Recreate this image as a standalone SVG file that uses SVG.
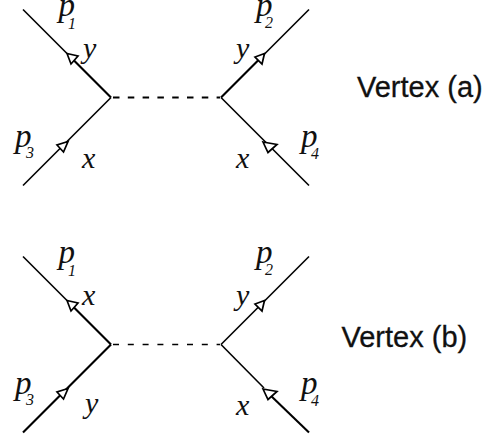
<svg xmlns="http://www.w3.org/2000/svg" width="489" height="437" viewBox="0 0 489 437">
<style>
.l{fill:none;stroke:#000;stroke-width:1.6}
.t{stroke-width:2.1}
.d{fill:none;stroke:#000;stroke-width:2;stroke-dasharray:6.500 8.300}
.d2{fill:none;stroke:#000;stroke-width:1.400;stroke-dasharray:6 8.800}
.a{fill:#fff;stroke:#000;stroke-width:1.700}
.m{font-family:"Liberation Serif",serif;font-style:italic;font-size:33px;fill:#111}
.v{font-family:"Liberation Serif",serif;font-style:italic;font-size:30px;fill:#111}
.s{font-family:"Liberation Serif",serif;font-style:italic;font-size:16px;fill:#111}
.c{font-family:"Liberation Sans",Arial,sans-serif;font-size:29px;fill:#111;stroke:#111;stroke-width:.3}
</style>
<rect width="489" height="437" fill="#fff"/>
<g id="connectors">
<path class="l" d="M23 9.500L67 53.500"/><path class="l t" d="M72 58.500L111 97.500"/>
<path class="l" d="M111 97.500L23 185.500"/>
<path class="d" d="M113 97.500H220"/>
<path class="l t" d="M221 97.500L263 55.500"/><path class="l" d="M263 55.500L309 9.500"/>
<path class="l" d="M221 97.500L309 185.500"/>
<path class="a" d="M67 53.500L78 56L71 64Z"/>
<path class="a" d="M68 141.500L57 145L63.500 152Z"/>
<path class="a" d="M264.500 53.500L255 57L262 64Z"/>
<path class="a" d="M263 142L277 144.500L268 152.500Z"/>

<path class="l" d="M23 256.500L67 300.500"/><path class="l t" d="M72 305.500L111 344.500"/>
<path class="l t" d="M111 344.500L23 432.500"/>
<path class="d2" d="M113 344.500H220"/>
<path class="l" d="M221 344.500L309 256.500"/>
<path class="l" d="M221 344.500L264 388"/><path class="l t" d="M268 393L309 432.500"/>
<path class="a" d="M67 300.500L78 303L71 311Z"/>
<path class="a" d="M68 388.500L57 392L63.500 399Z"/>
<path class="a" d="M264.500 300.500L255 304L262 311Z"/>
<path class="a" d="M263 389L277 391.500L268 399.500Z"/>
</g>
<g id="vertex-a">
<g id="a-p1"><text class="m" x="58.500" y="16">p</text><text class="s" x="68" y="29">1</text></g>
<g id="a-p2"><text class="m" x="256" y="16">p</text><text class="s" x="265" y="28">2</text></g>
<g id="a-p3"><text class="m" x="15" y="147">p</text><text class="s" x="26" y="158">3</text></g>
<g id="a-p4"><text class="m" x="301" y="147">p</text><text class="s" x="311" y="159">4</text></g>
<text id="a-y1" class="v" x="83" y="58">y</text>
<text id="a-y2" class="v" x="236" y="58">y</text>
<text id="a-x1" class="v" x="82" y="168">x</text>
<text id="a-x2" class="v" x="236" y="168">x</text>
<text id="a-label" class="c" x="357" y="97">Vertex (a)</text>
</g>
<g id="vertex-b">
<g id="b-p1"><text class="m" x="58.500" y="263">p</text><text class="s" x="68" y="276">1</text></g>
<g id="b-p2"><text class="m" x="256" y="263">p</text><text class="s" x="265" y="275">2</text></g>
<g id="b-p3"><text class="m" x="15" y="394">p</text><text class="s" x="26" y="405">3</text></g>
<g id="b-p4"><text class="m" x="301" y="394">p</text><text class="s" x="311" y="406">4</text></g>
<text id="b-x1" class="v" x="82" y="305">x</text>
<text id="b-y2" class="v" x="236" y="305">y</text>
<text id="b-y1" class="v" x="85" y="413">y</text>
<text id="b-x2" class="v" x="236" y="415">x</text>
<text id="b-label" class="c" x="341.500" y="347">Vertex (b)</text>
</g>
</svg>
